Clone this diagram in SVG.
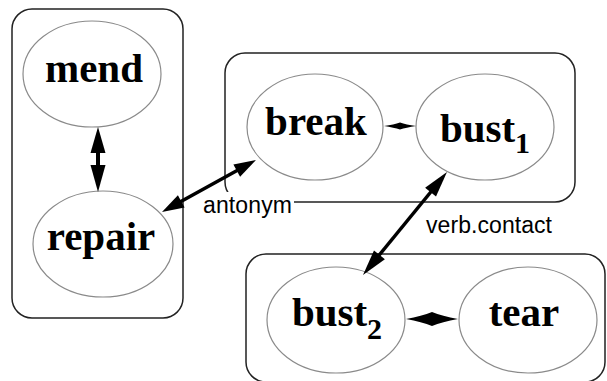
<svg xmlns="http://www.w3.org/2000/svg" width="607" height="381" viewBox="0 0 607 381">
  <style>
    .box { fill: none; stroke: #222; stroke-width: 1.5; }
    .node ellipse { fill: #fff; stroke: #8a8a8a; stroke-width: 1.2; }
    .word { font-family: "Liberation Serif", "Times New Roman", serif; font-weight: bold; font-size: 41px; fill: #000; text-anchor: middle; }
    .sub { font-size: 30px; }
    .rel { font-family: "Liberation Sans", Arial, sans-serif; font-size: 23px; fill: #000; }
    .shaft { stroke: #000; stroke-width: 3.5; fill: none; }
    .head { fill: #000; stroke: none; }
  </style>

  <rect width="607" height="381" fill="#fff"/>

  <!-- synset groups -->
  <g id="groups">
    <rect class="box" x="12" y="9" width="171" height="309" rx="20"/>
    <rect class="box" x="225" y="53" width="350" height="149" rx="20"/>
    <rect class="box" x="246" y="254" width="359" height="128" rx="20"/>
  </g>

  <!-- relation labels sit on a white plate -->
  <g id="labels">
    <rect x="201" y="192" width="93" height="27" fill="#fff"/>
    <text class="rel" x="203" y="213" textLength="89">antonym</text>
    <text class="rel" x="426" y="233" textLength="126">verb.contact</text>
  </g>

  <g id="mend" class="node">
    <ellipse cx="92" cy="74" rx="69" ry="53"/>
    <text class="word" x="94" y="82">mend</text>
  </g>
  <g id="repair" class="node">
    <ellipse cx="103" cy="244" rx="70" ry="53"/>
    <text class="word" x="101" y="250">repair</text>
  </g>
  <g id="break" class="node">
    <ellipse cx="315" cy="127" rx="68" ry="53"/>
    <text class="word" x="316" y="135">break</text>
  </g>
  <g id="bust1" class="node">
    <ellipse cx="485" cy="127" rx="69" ry="53"/>
    <text class="word" x="485" y="142">bust<tspan class="sub" dy="11">1</tspan></text>
  </g>
  <g id="bust2" class="node">
    <ellipse cx="336" cy="320" rx="69" ry="53"/>
    <text class="word" x="337" y="326">bust<tspan class="sub" dy="13">2</tspan></text>
  </g>
  <g id="tear" class="node">
    <ellipse cx="528" cy="320" rx="69" ry="53"/>
    <text class="word" x="524" y="326">tear</text>
  </g>

  <!-- connectors -->
  <g id="connectors">
    <!-- mend <-> repair -->
    <line class="shaft" x1="98" y1="150" x2="98" y2="168" style="stroke-width:4"/>
    <path class="head" d="M98,127 L105.5,153 L90.5,153 Z"/>
    <path class="head" d="M98,192 L105.5,165 L90.5,165 Z"/>

    <!-- repair <-> break (antonym) -->
    <line class="shaft" x1="180" y1="202" x2="238" y2="170"/>
    <path class="head" d="M256,160 L240.1,176.8 L233.4,164.5 Z"/>
    <path class="head" d="M162,212 L184.6,207.5 L177.9,195.2 Z"/>

    <!-- bust1 <-> bust2 (verb.contact) -->
    <line class="shaft" x1="378" y1="256.5" x2="432" y2="190.5"/>
    <path class="head" d="M447,172 L436,196.6 L425.1,187.7 Z"/>
    <path class="head" d="M363,275 L384.9,259.3 L374,250.4 Z"/>

    <!-- break <-> bust1 -->
    <path class="head" d="M384,126 Q394,124.5 400,122.5 Q406,124.5 416,126 Q406,127.5 400,129.5 Q394,127.5 384,126 Z"/>

    <!-- bust2 <-> tear -->
    <path class="head" d="M406,319 Q422,316 432,312 Q442,316 458,319 Q442,322 432,326 Q422,322 406,319 Z"/>
  </g>
</svg>
